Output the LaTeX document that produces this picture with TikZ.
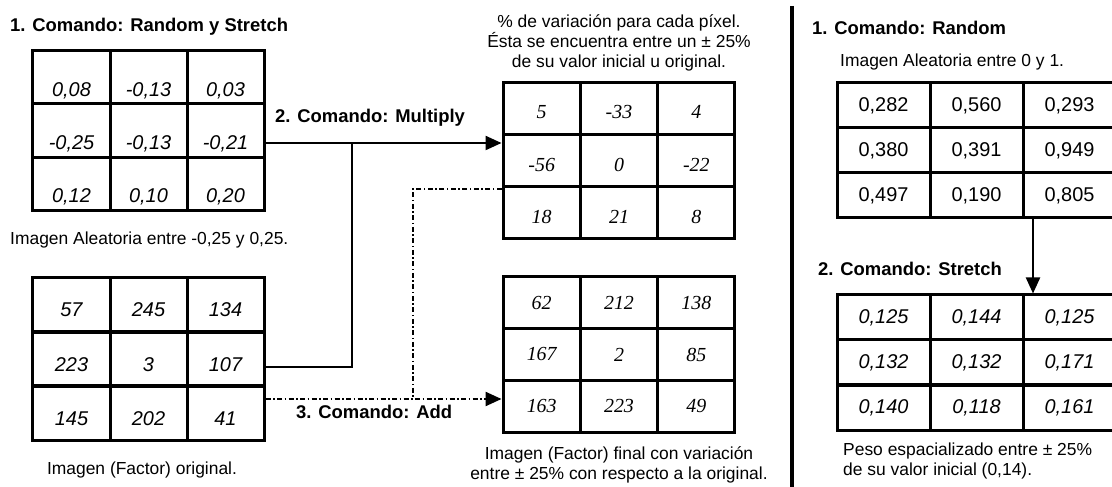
\documentclass[tikz,border=0pt]{standalone}
\usepackage{fontspec}
\setmainfont{Liberation Sans}
\newfontfamily\serifnum{Liberation Serif}
\usetikzlibrary{arrows.meta}
\newcommand\mkrow[9]{%
  \node[#1] (#21) at (#4,#3) {#7};
  \node[#1] (#22) at (#5,#3) {#8};
  \node[#1] (#23) at (#6,#3) {#9};}
\begin{document}
\begin{tikzpicture}[x=1bp,y=-1bp,
  cellbox/.style={draw, line width=3bp, inner sep=0pt},
  tlcell/.style={cellbox, minimum width=77bp, minimum height=53.33bp, text height=38bp, text depth=0bp, font=\fontsize{20}{20}\selectfont\itshape},
  blcell/.style={cellbox, minimum width=77bp, minimum height=54.67bp, text height=24bp, text depth=0bp, font=\fontsize{20}{20}\selectfont\itshape},
  mtcell/.style={cellbox, minimum width=77.33bp, minimum height=52.33bp, text height=21.5bp, text depth=0bp, font=\fontsize{20}{20}\selectfont\serifnum\itshape},
  mbcell/.style={cellbox, minimum width=77.33bp, minimum height=51.67bp, font=\fontsize{20}{20}\selectfont\serifnum\itshape},
  rtcell/.style={cellbox, minimum width=93bp, minimum height=45bp, font=\fontsize{20}{20}\selectfont},
  rbcell/.style={cellbox, minimum width=93bp, minimum height=45bp, font=\fontsize{20}{20}\selectfont\itshape},
  titletxt/.style={font=\fontsize{18.5}{22}\selectfont\bfseries, inner sep=0pt, anchor=west},
  captxt/.style={font=\fontsize{17.5}{20}\selectfont, inner sep=0pt},
  conn/.style={line width=2.2bp},
  dd/.style={conn, dash pattern=on 5bp off 2.5bp on 1.5bp off 2.5bp},
  arr/.style={-{Triangle[length=16bp,width=14bp]}},
  sepbar/.style={line width=4bp}]
\useasboundingbox (0,0) rectangle (1112,487);
\clip (0,0) rectangle (1112,487);
\fill[white] (0,0) rectangle (1112,487);

% top-left grid
\node[titletxt] (t1) at (10,27) {1. Comando: Random y Stretch};
\mkrow{tlcell}{tl1}{77.2}{71.5}{148.5}{225.5}{0,08}{-0,13}{0,03}
\mkrow{tlcell}{tl2}{130.5}{71.5}{148.5}{225.5}{-0,25}{-0,13}{-0,21}
\mkrow{tlcell}{tl3}{183.8}{71.5}{148.5}{225.5}{0,12}{0,10}{0,20}
\node[captxt, anchor=west] (ctl) at (10,240) {Imagen Aleatoria entre -0,25 y 0,25.};

% bottom-left grid
\mkrow{blcell}{bl1}{304.8}{71.5}{148.5}{225.5}{57}{245}{134}
\mkrow{blcell}{bl2}{359.2}{71.5}{148.5}{225.5}{223}{3}{107}
\mkrow{blcell}{bl3}{413.2}{71.5}{148.5}{225.5}{145}{202}{41}
\node[captxt] (cbl) at (142,470) {Imagen (Factor) original.};

% middle top grid
\node[captxt, align=center] (cmt) at (619,43) {\% de variación para cada píxel.\\Ésta se encuentra entre un ± 25\%\\de su valor inicial u original.};
\mkrow{mtcell}{mt1}{108.2}{541.7}{619}{696.3}{5}{-33}{4}
\mkrow{mtcell}{mt2}{160.5}{541.7}{619}{696.3}{-56}{0}{-22}
\mkrow{mtcell}{mt3}{212.8}{541.7}{619}{696.3}{18}{21}{8}

% middle bottom grid
\mkrow{mbcell}{mb1}{302.8}{541.7}{619}{696.3}{62}{212}{138}
\mkrow{mbcell}{mb2}{354.5}{541.7}{619}{696.3}{167}{2}{85}
\mkrow{mbcell}{mb3}{406.2}{541.7}{619}{696.3}{163}{223}{49}
\node[captxt, align=center] (cmb) at (619,465) {Imagen (Factor) final con variación\\entre ± 25\% con respecto a la original.};

% connectors
\coordinate (j1) at (352,143);
\coordinate (j2) at (352,367);
\coordinate (j3) at (413,399);
\coordinate (j4) at (413,189);
\draw[conn, arr] (tl23.east |- j1) -- (mt21.west |- j1);
\node[titletxt] (lmul) at (275,118) {2. Comando: Multiply};
\draw[conn] (bl23.east |- j2) -- (j2) -- (j1);
\draw[dd, arr] (bl33.east |- j3) -- (mb31.west |- j3);
\draw[dd] (mt31.west |- j4) -- (j4) -- (j3);
\node[titletxt] (ladd) at (296,412) {3. Comando: Add};

% separator
\draw[sepbar] (792,6) -- (792,492);

% right side
\node[titletxt] (t3) at (812,28) {1. Comando: Random};
\node[captxt, anchor=west] (crt) at (840,62) {Imagen Aleatoria entre 0 y 1.};
\mkrow{rtcell}{rt1}{105.5}{883.5}{976.5}{1069.5}{0,282}{0,560}{0,293}
\mkrow{rtcell}{rt2}{150.5}{883.5}{976.5}{1069.5}{0,380}{0,391}{0,949}
\mkrow{rtcell}{rt3}{195.5}{883.5}{976.5}{1069.5}{0,497}{0,190}{0,805}
\node[titletxt] (t4) at (818,269) {2. Comando: Stretch};
\mkrow{rbcell}{rb1}{317.5}{883.5}{976.5}{1069.5}{0,125}{0,144}{0,125}
\mkrow{rbcell}{rb2}{362.5}{883.5}{976.5}{1069.5}{0,132}{0,132}{0,171}
\mkrow{rbcell}{rb3}{407.5}{883.5}{976.5}{1069.5}{0,140}{0,118}{0,161}
\coordinate (j5) at (1033,218);
\draw[conn, arr] (j5 |- rt33.south) -- (j5 |- rb13.north);
\node[captxt, align=left, anchor=west] (crb) at (843,461) {Peso espacializado entre ± 25\%\\de su valor inicial (0,14).};
\end{tikzpicture}
\end{document}
